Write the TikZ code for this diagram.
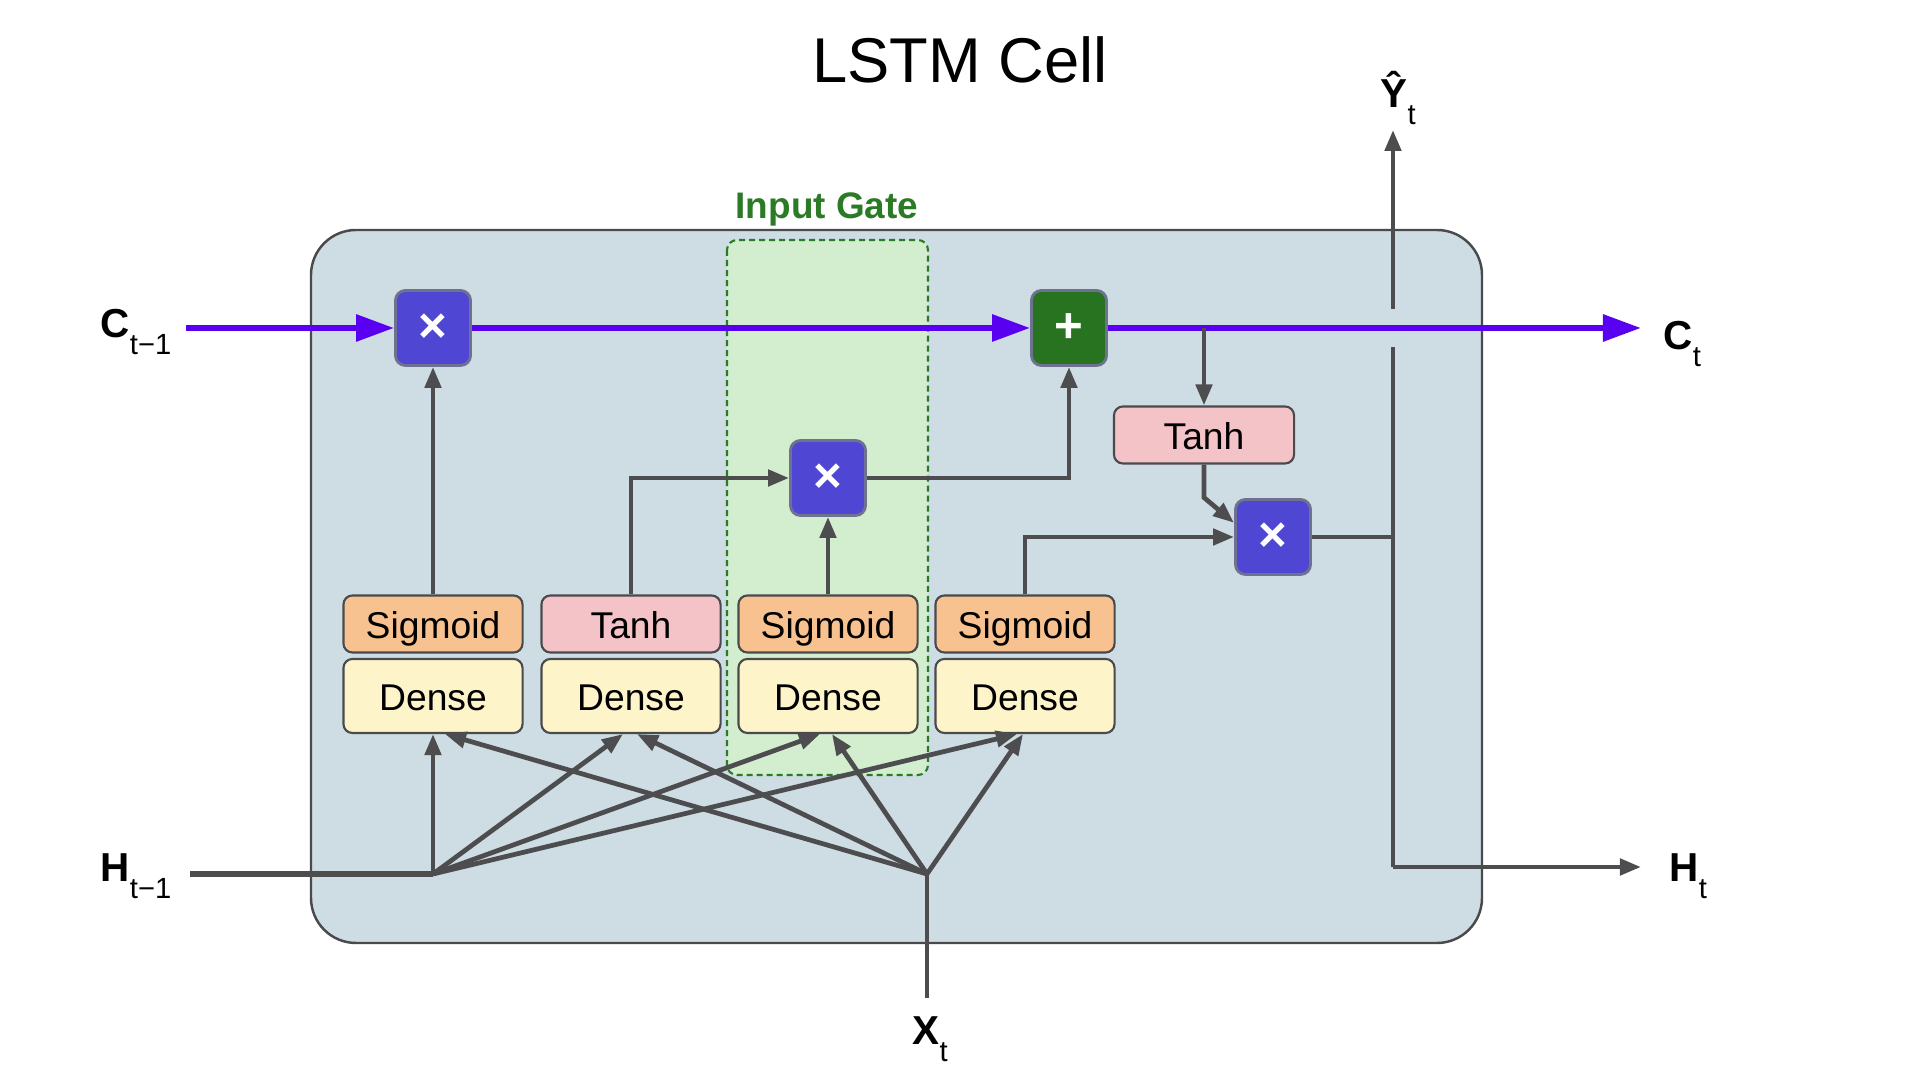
\documentclass[tikz,border=0pt]{standalone}
\usepackage{fontspec}
\setmainfont{Liberation Sans}
\usetikzlibrary{arrows.meta}

\definecolor{cellbg}{HTML}{CDDDE3}
\definecolor{cellborder}{HTML}{4A4A4C}
\definecolor{gatebg}{HTML}{D3EDCF}
\definecolor{gategreen}{HTML}{2B7A25}
\definecolor{statepurple}{HTML}{5A00F0}
\definecolor{linegray}{HTML}{4D4D50}
\definecolor{multblue}{HTML}{4F47D4}
\definecolor{addgreen}{HTML}{277320}
\definecolor{sigorange}{HTML}{F7C28F}
\definecolor{tanhpink}{HTML}{F4C3C7}
\definecolor{densecream}{HTML}{FDF4C9}
\definecolor{opborder}{HTML}{6E7290}

% subscript used by the signal labels
\newcommand\sigsub[1]{\raisebox{-0.42em}{\fontsize{8.3}{9}\mdseries\selectfont #1}}

\begin{document}
\begin{tikzpicture}[x=0.01cm,y=-0.01cm,
  layer/.style={draw=cellborder, line width=0.6pt, rounded corners=0.09cm,
    minimum width=1.79cm, inner sep=0pt, text height=1.9ex, text depth=0.38ex,
    font=\fontsize{10.6}{12}\selectfont},
  sigbox/.style={layer, fill=sigorange, minimum height=0.57cm},
  tanhbox/.style={layer, fill=tanhpink, minimum height=0.57cm},
  densebox/.style={layer, fill=densecream, minimum height=0.74cm},
  op/.style={draw=opborder, line width=0.8pt, rounded corners=0.1cm,
    minimum size=0.75cm, inner sep=0pt, text=white,
    font=\fontsize{14}{14}\bfseries\selectfont},
  mult/.style={op, fill=multblue},
  addop/.style={op, fill=addgreen},
  wire/.style={draw=linegray, line width=1.35pt},
  flow/.style={wire, -{Triangle[length=0.21cm, width=0.16cm]}},
  state/.style={draw=statepurple, line width=1.7pt},
  statearrow/.style={state, -{Triangle[length=0.38cm, width=0.26cm]}},
  sigl/.style={inner sep=0pt, anchor=base west, font=\fontsize{11.5}{12}\bfseries\selectfont},
]
\useasboundingbox[fill=white] (0,0) rectangle (1920,1080);

% title
\node[anchor=base, font=\fontsize{18}{20}\selectfont] (title) at (960,83) {LSTM Cell};

% cell body and the input-gate region
\draw[cellborder, line width=0.7pt, fill=cellbg, rounded corners=0.45cm]
  (311,230) rectangle (1482,943);
\draw[gategreen, dashed, dash pattern=on 0.06cm off 0.04cm, line width=0.6pt,
  fill=gatebg, rounded corners=0.1cm] (727,240) rectangle (928,775);
\node[anchor=base, text=gategreen, font=\fontsize{10.5}{12}\bfseries\selectfont]
  (gatelbl) at (827,219) {Input Gate};

% operators
\node[mult]  (mul1) at (433,328) {×};
\node[addop] (add)  at (1069,328) {+};
\node[mult]  (mul2) at (828,478) {×};
\node[mult]  (mul3) at (1273,537) {×};
\node[tanhbox, minimum width=1.8cm] (tanhc) at (1204,435) {Tanh};

% activation and dense layers
\node[sigbox]  (g1) at (433,624) {Sigmoid};
\node[tanhbox] (g2) at (631,624) {Tanh};
\node[sigbox]  (g3) at (828,624) {Sigmoid};
\node[sigbox]  (g4) at (1025,624) {Sigmoid};
\node[densebox] (d1) at (433,696) {Dense};
\node[densebox] (d2) at (631,696) {Dense};
\node[densebox] (d3) at (828,696) {Dense};
\node[densebox] (d4) at (1025,696) {Dense};

% signal labels
\node[sigl] (cprev) at (100,338) {C\sigsub{t−1}};
\node[sigl] (cnext) at (1663,350) {C\sigsub{t}};
\node[sigl] (hprev) at (100,882) {H\sigsub{t−1}};
\node[sigl] (hnext) at (1669,882) {H\sigsub{t}};
\node[sigl] (xcur)  at (912,1045) {X\sigsub{t}};
\node[sigl] (ycur)  at (1380,108) {Ŷ\sigsub{t}};

% end points and junctions
\coordinate (cin)  at (186,328);
\coordinate (cout) at (1641,328);
\coordinate (cbr)  at (tanhc.north |- cout);
\coordinate (hin)  at (190,874);
\coordinate (hj)   at (433,874);
\coordinate (xin)  at (927,998);
\coordinate (xj)   at (927,874);
\coordinate (otop) at (1393,347);
\coordinate (ojn)  at (1393,537);
\coordinate (ocor) at (1393,867);
\coordinate (hout) at (1641,867);
\coordinate (ybot) at (1393,309);
\coordinate (yout) at (1393,130);

% cell state
\draw[statearrow] (cin) -- (mul1.west);
\draw[statearrow] (mul1.east) -- (add.west);
\draw[statearrow] (add.east) -- (cout);

% gate connections
\draw[flow] (g1.north) -- (mul1.south);
\draw[flow] (g2.north) |- (mul2.west);
\draw[flow] (g3.north) -- (mul2.south);
\draw[flow] (mul2.east) -| (add.south);
\draw[flow] (cbr) -- (tanhc.north);
\draw[flow] (tanhc.south) -- ++(0,33) -- (mul3.160);
\draw[flow] (g4.north) |- (mul3.west);

% output path
\draw[wire] (mul3.east) -- (ojn);
\draw[wire] (otop) -- (ocor);
\draw[flow] (ocor) -- (hout);
\draw[flow] (ybot) -- (yout);

% previous hidden state fan-out
\draw[wire, line width=1.6pt] (hin) -- (hj);
\draw[flow] (hj) -- (d1.south);
\draw[flow] (hj) -- ([xshift=-0.08cm]d2.south);
\draw[flow] (hj) -- ([xshift=-0.08cm]d3.south);
\draw[flow] (hj) -- ([xshift=-0.08cm]d4.south);

% current input fan-out
\draw[wire] (xin) -- (xj);
\draw[flow] (xj) -- ([xshift=0.12cm]d1.south);
\draw[flow] (xj) -- ([xshift=0.06cm]d2.south);
\draw[flow] (xj) -- ([xshift=0.04cm]d3.south);
\draw[flow] (xj) -- ([xshift=-0.02cm]d4.south);
\end{tikzpicture}
\end{document}
